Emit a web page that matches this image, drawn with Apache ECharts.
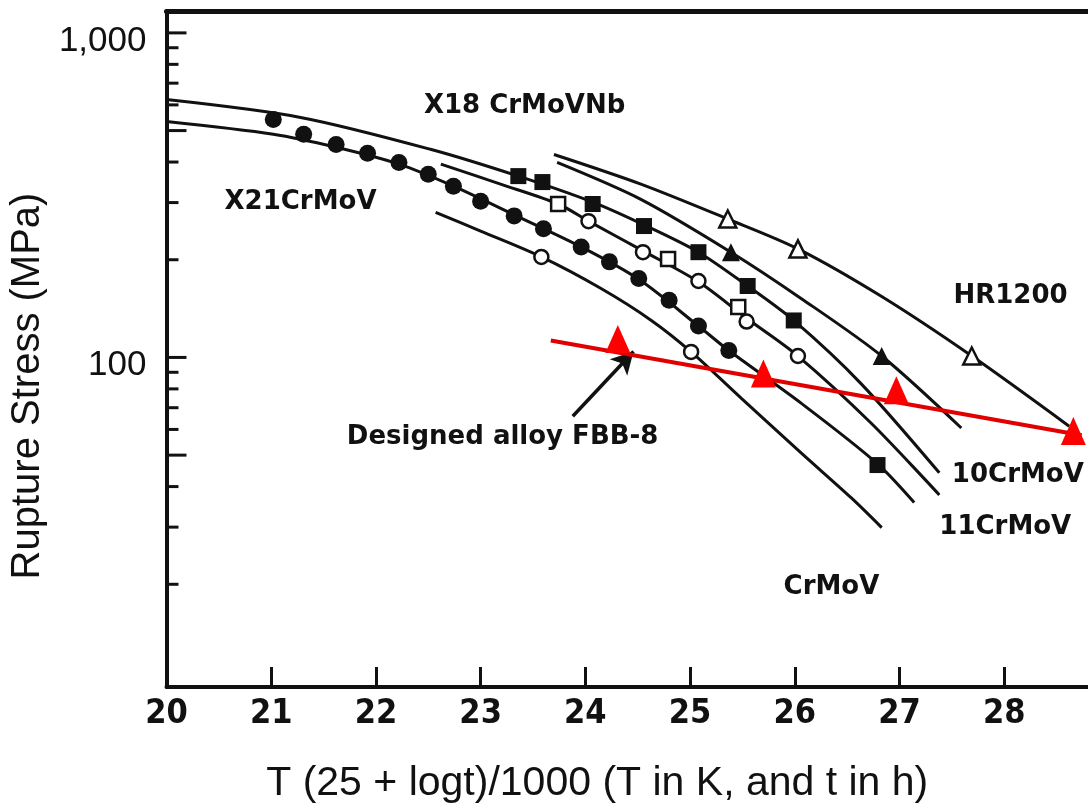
<!DOCTYPE html>
<html>
<head>
<meta charset="utf-8">
<script src="https://cdn.jsdelivr.net/npm/echarts@6/dist/echarts.min.js"></script>
<style>
  html, body { margin: 0; padding: 0; background: #fff; }
  #main { width: 1088px; height: 809px; }
</style>
</head>
<body>
<div id="main"></div>
<script>
// Larson-Miller plot: rupture stress vs T(25 + log t)/1000

// tick values
const xTickValues = [20, 21, 22, 23, 24, 25, 26, 27, 28];
const yLongTicks = [50, 100, 500, 1000];
const yShortTicks = [20, 30, 40, 60, 70, 80, 90, 200, 300, 400, 600, 700, 800, 900];

// fitted curves (black)
const hr1200Curve = [[23.70, 422], [24.53, 342], [25.36, 267], [26.03, 216], [26.83, 154], [27.69, 101], [28.62, 61.4]];
const filledTriCurve = [[23.73, 399], [24.53, 307], [25.39, 211], [26.06, 152], [26.83, 101], [27.59, 60.6]];
const x18Curve = [[20, 623], [21.28, 549], [22.52, 438], [23.36, 362], [24.07, 301], [24.56, 256], [25.08, 211], [25.55, 166], [25.99, 130], [26.63, 83.2], [27.38, 44.1]];
const x21Curve = [[20, 533], [21.02, 487], [21.62, 444], [22.22, 394], [22.74, 337], [23.32, 275], [23.96, 219], [24.51, 174], [25.08, 125], [25.37, 105], [26.06, 72.3], [26.78, 47.3], [27.14, 35.7]];
const openCurve = [[22.62, 394], [23.19, 342], [23.74, 297], [24.03, 263], [24.55, 213], [25.08, 171], [25.54, 132], [26.03, 101], [26.73, 62.7], [27.38, 37.7]];
const crmovCurve = [[22.57, 280], [23.00, 245], [23.58, 204], [24.15, 163], [24.63, 130], [25.01, 104], [25.49, 74.8], [26.06, 50.8], [26.54, 36.9], [26.83, 29.9]];

// measured points
const filledCircles = [[21.02, 541], [21.31, 487], [21.62, 453], [21.92, 426], [22.22, 399], [22.50, 367], [22.74, 337], [23.00, 303], [23.32, 273], [23.60, 249], [23.96, 219], [24.23, 197], [24.51, 175], [24.80, 150], [25.08, 125], [25.37, 105]];
const filledSquares = [[23.36, 362], [23.59, 347], [24.07, 297], [24.56, 254], [25.08, 211], [25.55, 166], [25.99, 130], [26.79, 46.6]];
const openSquares = [[23.74, 297], [24.79, 201], [25.46, 143]];
const openCircles = [[23.58, 204], [24.03, 263], [24.55, 211], [25.01, 104], [25.08, 172], [25.54, 129], [26.03, 101]];
const openTriangles = [[25.36, 267], [26.03, 216], [27.69, 101]];
const filledTriangles = [[25.39, 211], [26.83, 101]];

// designed alloy FBB-8 (red)
const fbb8Points = [[24.31, 114], [25.70, 89.3], [26.97, 79.2], [28.66, 59.3]];
const fbb8Fit = [[23.67, 112.7], [28.74, 57.6]];
const fbb8Arrow = [[23.88, 65.9], [24.46, 104.3]];

// curve labels
const curveLabels = [
  { name: 'X18 CrMoVNb', value: [23.42, 593] },
  { name: 'X21CrMoV', value: [21.28, 301] },
  { name: 'HR1200', value: [28.06, 154] },
  { name: '10CrMoV', value: [28.13, 43.4] },
  { name: '11CrMoV', value: [28.01, 29.9] },
  { name: 'CrMoV', value: [26.35, 19.6] },
  { name: 'Designed alloy FBB-8', value: [23.21, 56.8] }
];

const ink = '#111';
const labelFont = "'DejaVu Sans', sans-serif";

const chart = echarts.init(document.getElementById('main'));

const curveSeries = (data) => ({
  type: 'line',
  data: data,
  smooth: 0.3,
  showSymbol: false,
  silent: true,
  lineStyle: { color: ink, width: 3 },
  z: 2
});

const pointSeries = (data, symbol, size, filled) => ({
  type: 'scatter',
  data: data,
  symbol: symbol,
  symbolSize: size,
  silent: true,
  itemStyle: filled
    ? { color: ink, opacity: 1 }
    : { color: '#fff', borderColor: ink, borderWidth: 2.5, opacity: 1 },
  z: 4
});

const yTickData = yLongTicks.map(v => [20, v, 1]).concat(yShortTicks.map(v => [20, v, 0]));

const option = {
  animation: false,
  backgroundColor: '#fff',
  grid: { left: 166, right: 0, top: 11, bottom: 119 },
  xAxis: [
    {
      type: 'value',
      min: 20,
      max: 28.8,
      interval: 1,
      name: 'T (25 + logt)/1000 (T in K, and t in h)',
      nameLocation: 'middle',
      nameGap: 76,
      nameTextStyle: {
        fontFamily: "'Liberation Sans', Arial, sans-serif",
        fontSize: 41,
        color: ink,
        padding: [0, 60, 0, 0]
      },
      axisLine: { lineStyle: { color: ink, width: 4 } },
      axisTick: { inside: true, length: 20, lineStyle: { color: ink, width: 3 } },
      axisLabel: {
        showMaxLabel: false,
        margin: 10,
        fontFamily: "'Liberation Sans Narrow', 'DejaVu Sans Condensed', 'Liberation Sans', sans-serif",
        fontWeight: 'bold',
        fontSize: 34,
        color: ink
      },
      splitLine: { show: false }
    },
    {
      type: 'value',
      position: 'top',
      min: 20,
      max: 28.8,
      axisLine: { lineStyle: { color: ink, width: 5 } },
      axisTick: { show: false },
      axisLabel: { show: false },
      splitLine: { show: false }
    }
  ],
  yAxis: {
    type: 'log',
    logBase: 10,
    min: 9.65,
    max: 1168,
    name: 'Rupture Stress (MPa)',
    nameLocation: 'middle',
    nameGap: 100,
    nameTextStyle: {
      fontFamily: "'Liberation Sans', Arial, sans-serif",
      fontSize: 40,
      color: ink,
      padding: [0, 74, 0, 0]
    },
    axisLine: { show: true, lineStyle: { color: ink, width: 4 } },
    axisTick: { show: false },
    axisLabel: {
      margin: 20,
      verticalAlign: 'top',
      lineHeight: 16,
      fontFamily: "'Liberation Sans', Arial, sans-serif",
      fontSize: 35,
      color: ink,
      formatter: (v) => {
        const r = Math.round(v);
        if (r === 1000) return '1,000';
        if (r === 100) return '100';
        return '';
      }
    },
    splitLine: { show: false }
  },
  series: [
    {
      type: 'custom',
      silent: true,
      clip: false,
      data: yTickData,
      renderItem: (params, api) => {
        const p = api.coord([api.value(0), api.value(1)]);
        const len = api.value(2) ? 20 : 12;
        return {
          type: 'line',
          shape: { x1: p[0], y1: p[1], x2: p[0] + len, y2: p[1] },
          style: { stroke: ink, lineWidth: 3 }
        };
      },
      z: 3
    },
    curveSeries(hr1200Curve),
    curveSeries(filledTriCurve),
    curveSeries(x18Curve),
    curveSeries(x21Curve),
    curveSeries(openCurve),
    curveSeries(crmovCurve),
    {
      type: 'line',
      data: fbb8Fit,
      showSymbol: false,
      silent: true,
      lineStyle: { color: '#e00000', width: 4 },
      z: 5,
      markLine: {
        silent: true,
        symbol: ['none', 'arrow'],
        symbolSize: [18, 22],
        label: { show: false },
        lineStyle: { color: ink, width: 3.5, type: 'solid' },
        data: [[{ coord: fbb8Arrow[0] }, { coord: fbb8Arrow[1] }]]
      }
    },
    pointSeries(filledCircles, 'circle', 17, true),
    pointSeries(filledSquares, 'rect', 16, true),
    pointSeries(openSquares, 'rect', 14, false),
    pointSeries(openCircles, 'circle', 14, false),
    pointSeries(openTriangles, 'triangle', 17, false),
    pointSeries(filledTriangles, 'triangle', 18, true),
    {
      type: 'scatter',
      data: fbb8Points,
      symbol: 'triangle',
      symbolSize: [25, 28],
      silent: true,
      itemStyle: { color: '#ff0000', opacity: 1 },
      z: 6
    },
    {
      type: 'scatter',
      data: curveLabels,
      symbolSize: 1,
      silent: true,
      itemStyle: { color: 'transparent', opacity: 1 },
      label: {
        show: true,
        position: 'inside',
        formatter: '{b}',
        fontFamily: labelFont,
        fontWeight: 'bold',
        fontSize: 26,
        color: '#111'
      },
      z: 7
    }
  ]
};

chart.setOption(option);
</script>
</body>
</html>
